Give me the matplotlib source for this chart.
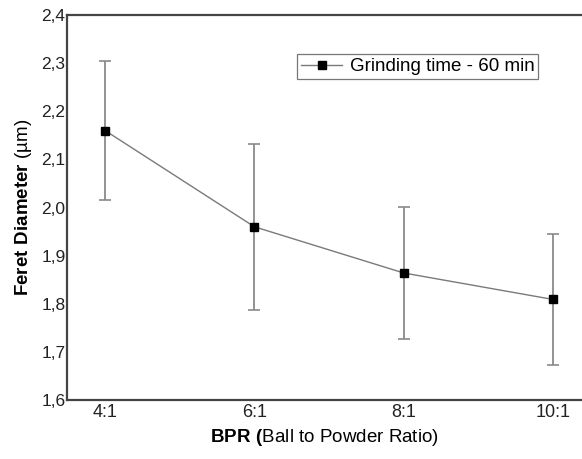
import matplotlib
matplotlib.use("Agg")
import matplotlib.pyplot as plt
import numpy as np

plt.rcParams['font.family'] = ['Liberation Sans', 'DejaVu Sans']
plt.rcParams['mathtext.fontset'] = 'custom'
plt.rcParams['mathtext.rm'] = 'Liberation Sans'
plt.rcParams['mathtext.bf'] = 'Liberation Sans:bold'

bpr = ['4:1', '6:1', '8:1', '10:1']
feret = [2.16, 1.96, 1.864, 1.809]
feret_err = [0.145, 0.173, 0.137, 0.137]
yticks = [1.6, 1.7, 1.8, 1.9, 2.0, 2.1, 2.2, 2.3, 2.4]
ytick_labels = ['1,6', '1,7', '1,8', '1,9', '2,0', '2,1', '2,2', '2,3', '2,4']

fig = plt.figure(figsize=(5.82, 4.59), dpi=100)
ax = fig.add_axes([0.1151, 0.1285, 0.885, 0.8388])

x = np.arange(len(bpr))
ax.errorbar(x, feret, yerr=feret_err, fmt='none', ecolor='#8a8a8a',
            elinewidth=1.3, capsize=4, capthick=1.2, zorder=2)
ax.plot(x, feret, color='#7a7a7a', lw=1.0, marker='s', ms=5.5,
        mfc='black', mec='black', label='Grinding time - 60 min', zorder=3)

ax.set_xlim(-0.255, 3.195)
ax.set_ylim(1.6, 2.4)
ax.set_xticks(x)
ax.set_xticklabels(bpr, fontsize=13)
ax.set_yticks(yticks)
ax.set_yticklabels(ytick_labels, fontsize=12.5)
ax.tick_params(axis='both', length=0, colors='#222222')
ax.tick_params(axis='y', pad=1)
ax.tick_params(axis='x', pad=3)

for s in ['left', 'bottom', 'top']:
    ax.spines[s].set_color('#444444')
    ax.spines[s].set_linewidth(1.6)
ax.spines['right'].set_visible(False)

ax.set_xlabel(r'$\mathbf{BPR\ (}$Ball to Powder Ratio)', fontsize=13.5, labelpad=4)
ax.set_ylabel(r'$\mathbf{Feret\ Diameter}$ (µm)', fontsize=13.5, labelpad=5)

leg = ax.legend(loc='upper right', bbox_to_anchor=(0.915, 0.898), fontsize=13.5,
                frameon=True, fancybox=False, handlelength=2.2,
                borderpad=0.2, handletextpad=0.4, borderaxespad=0)
leg.get_frame().set_edgecolor('#555555')
leg.get_frame().set_linewidth(0.9)

fig.savefig('out.png', dpi=100)
